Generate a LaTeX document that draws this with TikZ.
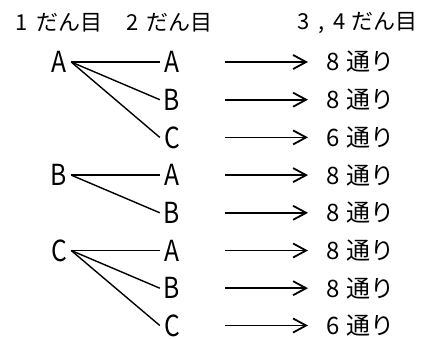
\documentclass[tikz,border=0pt]{standalone}
\usepackage{fontspec}
\usepackage{graphicx}
\setmainfont{Noto Sans CJK JP}
\usetikzlibrary{arrows.meta}
\begin{document}
\begin{tikzpicture}[x=1pt,y=-1pt,
  lbl/.style={font=\fontsize{29}{29}\selectfont, inner sep=0pt, minimum width=24pt},
  hdr/.style={font=\fontsize{22}{22}\selectfont, inner sep=0pt, anchor=west},
  res/.style={font=\fontsize{24}{24}\selectfont, inner sep=0pt, anchor=west},
  tree/.style={line width=1.4pt},
  arr/.style={line width=1.8pt, -{Straight Barb[length=13pt,width=14pt,line width=1.8pt]}}]
\useasboundingbox (0,0) rectangle (441,338);
% headers
\node[hdr] (h1) at (15,23) {1\hspace{9pt}だん目};
\node[hdr] (h2) at (126.5,23) {2\hspace{7.5pt}だん目};
\node[hdr] (h3) at (297,23) {3\hspace{9.5pt},\hspace{8pt}4\hspace{6pt}だん目};
% first level
\node[lbl] (p1) at (59,62) {\scalebox{0.85}[1]{A}};
\node[lbl] (p2) at (59,175.1) {\scalebox{0.85}[1]{B}};
\node[lbl] (p3) at (59,250.5) {\scalebox{0.85}[1]{C}};
% second level and results
\foreach \i/\y/\l/\n in {1/62/A/8, 2/99.7/B/8, 3/137.4/C/6, 4/175.1/A/8, 5/212.8/B/8, 6/250.5/A/8, 7/288.2/B/8, 8/325.5/C/6} {
  \node[lbl] (s\i) at (172,\y) {\scalebox{0.85}[1]{\l}};
  \node[res] (r\i) at (326,\y) {\n\hspace{7pt}通り};
  \draw[arr] ([xshift=41pt]s\i.east) -- ([xshift=-18pt]s\i -| r\i.west);
}
\draw[tree] (p1.east) -- (s1.west);
\draw[tree] (p1.east) -- (s2.west);
\draw[tree] (p1.east) -- (s3.west);
\draw[tree] (p2.east) -- (s4.west);
\draw[tree] (p2.east) -- (s5.west);
\draw[tree] (p3.east) -- (s6.west);
\draw[tree] (p3.east) -- (s7.west);
\draw[tree] (p3.east) -- (s8.west);
\end{tikzpicture}
\end{document}
